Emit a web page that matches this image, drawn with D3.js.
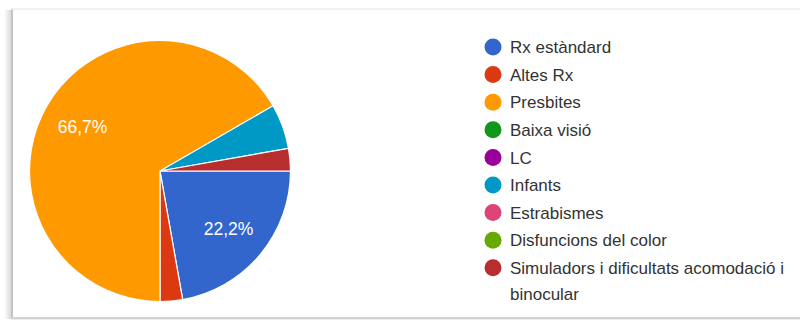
<!DOCTYPE html>
<html>
<head>
<meta charset="utf-8">
<script src="https://cdn.jsdelivr.net/npm/d3@7"></script>
<style>
  html, body { margin: 0; padding: 0; background: #fff; }
  svg { display: block; }
</style>
</head>
<body>
<svg id="chart" width="800" height="320"></svg>
<script>
// Response counts per category
const categories = [
  "Rx estàndard", "Altes Rx", "Presbites", "Baixa visió", "LC",
  "Infants", "Estrabismes", "Disfuncions del color",
  "Simuladors i dificultats acomodació i binocular"
];
const counts = [8, 1, 24, 0, 0, 2, 0, 0, 1];
const colors = [
  "#3366cc", "#dc3912", "#ff9900", "#109618", "#990099",
  "#0099c6", "#dd4477", "#66aa00", "#b82e2e"
];
// Legend lines (long labels wrap onto a second line)
const legendLines = [
  ["Rx estàndard"], ["Altes Rx"], ["Presbites"], ["Baixa visió"], ["LC"],
  ["Infants"], ["Estrabismes"], ["Disfuncions del color"],
  ["Simuladors i dificultats acomodació i", "binocular"]
];

const svg = d3.select("#chart");
const font = "Arial, 'Liberation Sans', sans-serif";

// Card frame with a soft shadow on the left and bottom
const defs = svg.append("defs");
const grad = defs.append("linearGradient").attr("id", "lshadow")
  .attr("x1", "0").attr("x2", "1").attr("y1", "0").attr("y2", "0");
grad.append("stop").attr("offset", "0").attr("stop-color", "#fff");
grad.append("stop").attr("offset", "1").attr("stop-color", "#d9d9d9");
svg.append("rect").attr("x", 4).attr("y", 10).attr("width", 7).attr("height", 309)
  .attr("fill", "url(#lshadow)");
svg.append("rect").attr("x", 11).attr("y", 9).attr("width", 2).attr("height", 310)
  .attr("fill", "#c4c4c4");
svg.append("rect").attr("x", 11).attr("y", 8.5).attr("width", 800).attr("height", 1)
  .attr("fill", "#e4e4e4");
svg.append("rect").attr("x", 11).attr("y", 317).attr("width", 800).attr("height", 2)
  .attr("fill", "#d2d2d2");
svg.append("rect").attr("x", 11).attr("y", 319).attr("width", 800).attr("height", 1)
  .attr("fill", "#ececec");

// Pie
const cx = 160, cy = 171, r = 130.5;
const total = d3.sum(counts);
const data = categories.map((c, i) => ({ name: c, value: counts[i], color: colors[i] }));

const pie = d3.pie().value(d => d.value).sort(null)
  .startAngle(Math.PI / 2).endAngle(Math.PI / 2 + 2 * Math.PI);
const arcs = pie(data).filter(a => a.data.value > 0);
const arc = d3.arc().innerRadius(0).outerRadius(r);
const labelArc = d3.arc().innerRadius(r * 0.685).outerRadius(r * 0.685);

const g = svg.append("g").attr("transform", `translate(${cx},${cy})`);
g.selectAll("path").data(arcs).join("path")
  .attr("d", arc)
  .attr("fill", d => d.data.color)
  .attr("stroke", "#fff")
  .attr("stroke-width", 1.2);

// Percent labels on the larger slices
const fmt = v => d3.format(".1f")(v).replace(".", ",") + "%";
g.selectAll("text.pct").data(arcs.filter(a => a.data.value / total > 0.1)).join("text")
  .attr("class", "pct")
  .attr("transform", d => `translate(${labelArc.centroid(d)})`)
  .attr("text-anchor", "middle")
  .attr("dy", "0.36em")
  .attr("font-family", font)
  .attr("font-size", 17.5)
  .attr("fill", "#fff")
  .text(d => fmt(d.data.value / total * 100));

// Legend
const lx = 493, ly0 = 47, step = 27.6;
const leg = svg.append("g");
legendLines.forEach((lines, i) => {
  const y = ly0 + i * step;
  leg.append("circle").attr("cx", lx).attr("cy", y).attr("r", 8.5).attr("fill", colors[i]);
  lines.forEach((t, j) => {
    leg.append("text")
      .attr("x", 510).attr("y", y + j * 26)
      .attr("dy", "0.36em")
      .attr("font-family", font)
      .attr("font-size", 17)
      .attr("fill", "#333")
      .text(t);
  });
});
</script>
</body>
</html>
